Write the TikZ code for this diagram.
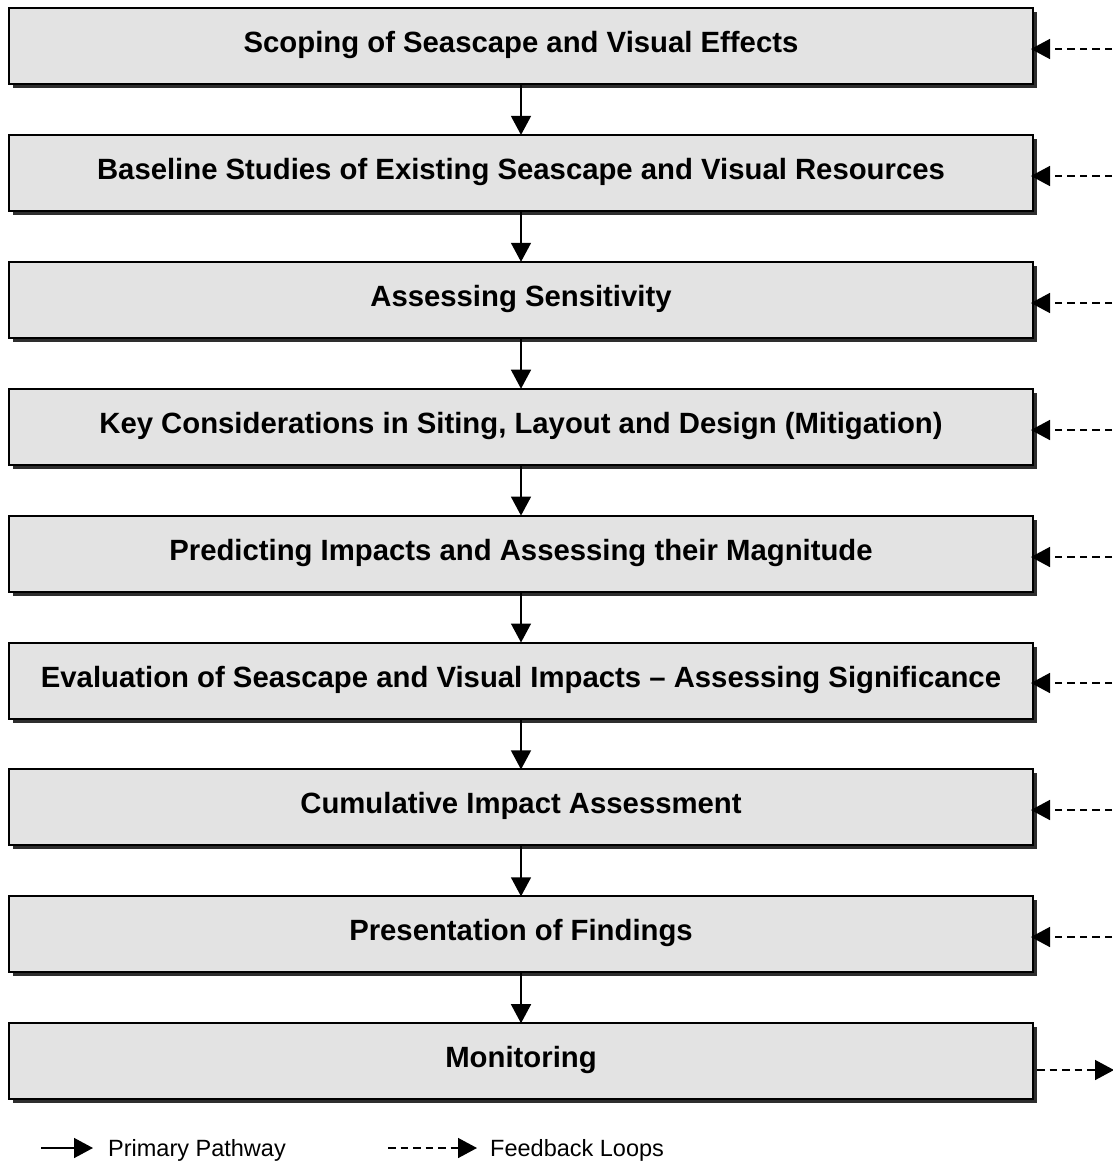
\documentclass[tikz,border=0pt]{standalone}
\usepackage{fontspec}
\setmainfont{Liberation Sans}
\usetikzlibrary{arrows.meta,shadows}
\definecolor{boxfill}{HTML}{E3E3E3}
\definecolor{shadowc}{HTML}{2E2E2E}
\begin{document}
\begin{tikzpicture}[x=1pt,y=-1pt,
  stagebox/.style={draw=black, line width=2pt, fill=boxfill,
    minimum width=1024pt, minimum height=76pt, inner sep=0pt, outer sep=0pt,
    anchor=north west, font=\fontsize{29.3}{34}\selectfont\bfseries,
    text height=20pt, text depth=7pt,
    drop shadow={shadow xshift=4pt, shadow yshift=-4pt, fill=shadowc, opacity=1}},
  mainarrow/.style={line width=1.5pt, -{Triangle[length=19pt,width=20pt]}},
  fbarrow/.style={line width=1.5pt, dash pattern=on 7.5pt off 5pt, -{Triangle[length=19pt,width=20pt]}},
  legtext/.style={anchor=base west, inner sep=0pt, font=\fontsize{23.5}{28}\selectfont}]
\useasboundingbox (0,0) rectangle (1112,1162);

\node[stagebox] (b1) at (9,8) {Scoping of Seascape and Visual Effects};
\node[stagebox] (b2) at (9,134.9) {Baseline Studies of Existing Seascape and Visual Resources};
\node[stagebox] (b3) at (9,261.8) {Assessing Sensitivity};
\node[stagebox] (b4) at (9,388.7) {Key Considerations in Siting, Layout and Design (Mitigation)};
\node[stagebox] (b5) at (9,515.6) {Predicting Impacts and Assessing their Magnitude};
\node[stagebox] (b6) at (9,642.5) {Evaluation of Seascape and Visual Impacts -- Assessing Significance};
\node[stagebox] (b7) at (9,769.4) {Cumulative Impact Assessment};
\node[stagebox] (b8) at (9,896.3) {Presentation of Findings};
\node[stagebox] (b9) at (9,1023.2) {Monitoring};

\foreach \a/\b in {b1/b2,b2/b3,b3/b4,b4/b5,b5/b6,b6/b7,b7/b8,b8/b9}
  \draw[mainarrow] (\a.south) -- (\b.north);

\foreach \n/\y in {1/49,2/176,3/303,4/430,5/557,6/683,7/810,8/937}{
  \coordinate (fb\n) at (1112,\y);
  \draw[fbarrow, shorten >=-2pt] (fb\n) -- (b\n.east |- fb\n);
}

\coordinate (mo) at (1114,1070);
\draw[fbarrow, shorten <=4pt] (b9.east |- mo) -- (mo);

% legend
\coordinate (la) at (41,1148);
\coordinate (lb) at (93,1148);
\draw[mainarrow] (la) -- (lb);
\node[legtext] (lt1) at (108,1156) {Primary Pathway};
\coordinate (lc) at (388,1148);
\coordinate (ld) at (477,1148);
\draw[fbarrow] (lc) -- (ld);
\node[legtext] (lt2) at (490,1156) {Feedback Loops};
\end{tikzpicture}
\end{document}
